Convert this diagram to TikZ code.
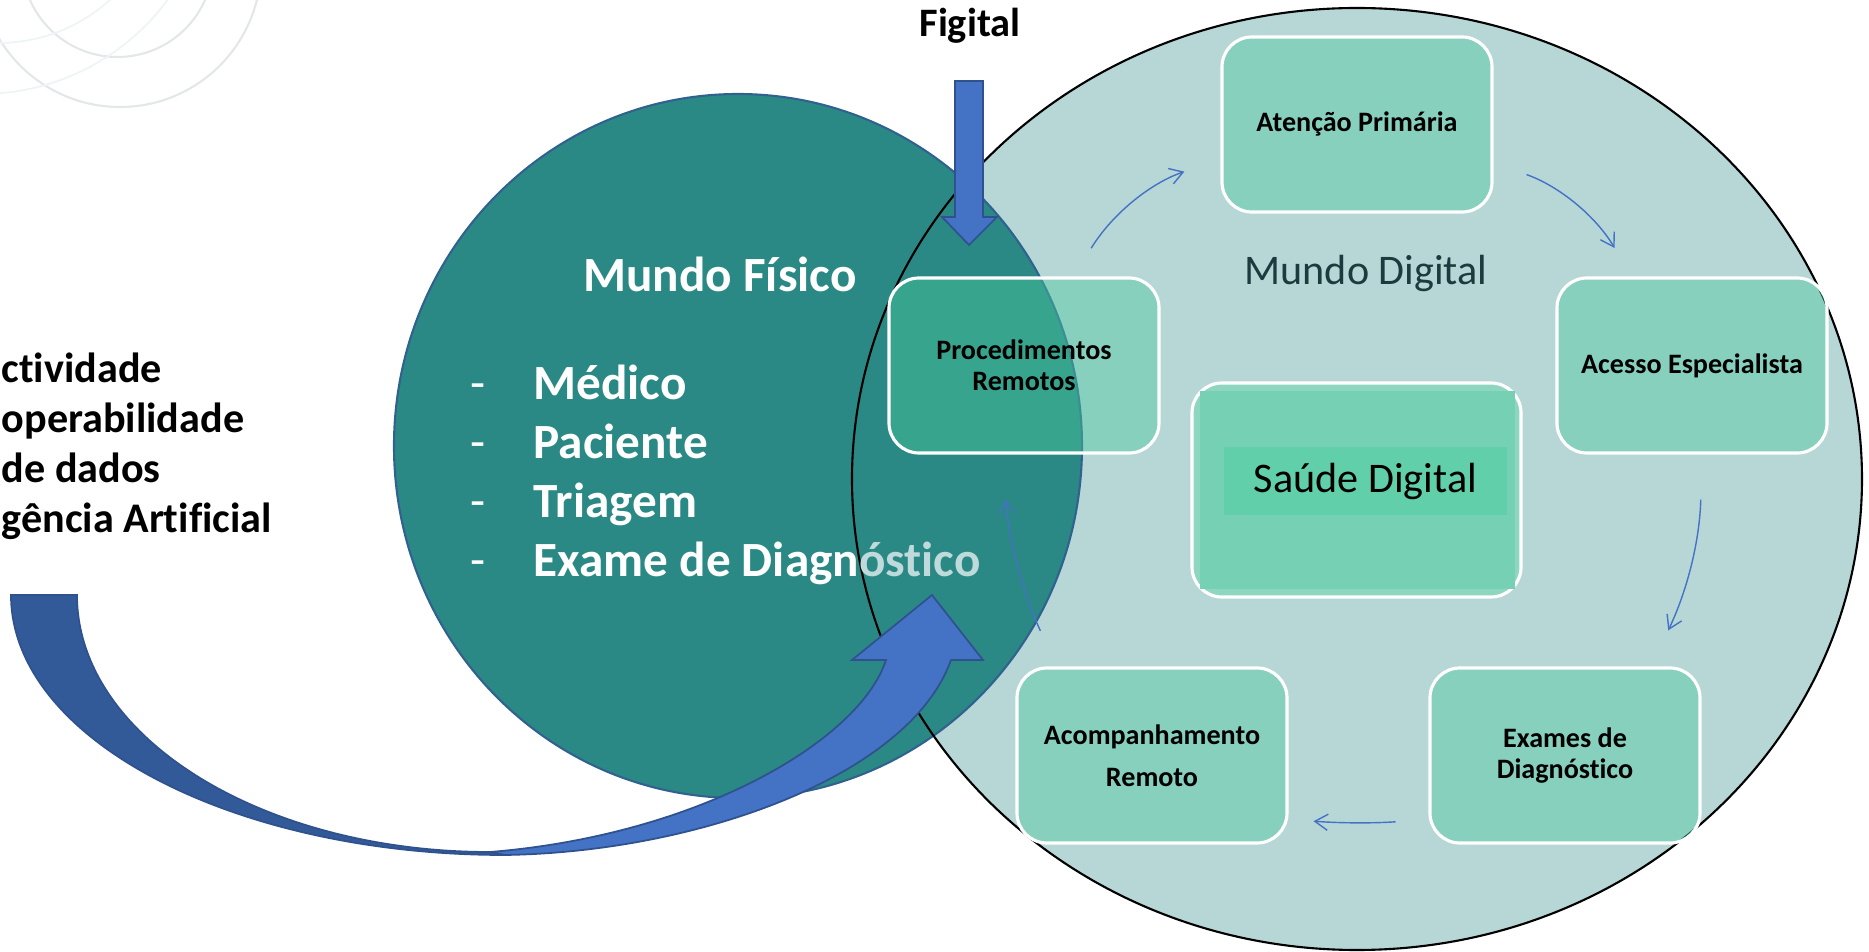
\documentclass[tikz,border=0pt]{standalone}
\usepackage{fontspec}
\setmainfont{Carlito}[Ligatures=CommonOff]
\usetikzlibrary{arrows.meta}

\definecolor{digitalbg}{HTML}{B7D7D7}
\definecolor{fisicobg}{HTML}{2B8985}
\definecolor{fisicoline}{HTML}{31628F}
\definecolor{arrowblue}{HTML}{4472C4}
\definecolor{arrowdark}{HTML}{335A98}
\definecolor{arrowline}{HTML}{2F528F}
\definecolor{stagefill}{HTML}{47C99C}
\definecolor{saudeout}{HTML}{8FD6C0}
\definecolor{saudein}{HTML}{76D1B4}
\definecolor{saudeband}{HTML}{60CFAA}
\definecolor{digitaltext}{HTML}{1D3B3E}
\definecolor{fadetext}{HTML}{BEDADA}
\definecolor{decoline}{HTML}{E3E7E9}
\definecolor{decofaint}{HTML}{EEF4F6}

\begin{document}
\begin{tikzpicture}[
    stage/.style={draw=white, line width=0.9pt, fill=stagefill, fill opacity=0.43, text opacity=1,
      rounded corners=0.3cm, minimum width=2.7cm, minimum height=1.75cm, align=center,
      font=\bfseries\fontsize{8}{8.7}\selectfont},
    cycarrow/.style={draw=arrowblue, line width=0.4pt, -{Straight Barb[length=3.7pt,width=4.6pt]}},
    fislist/.style={anchor=base west, inner sep=0pt, text=white, font=\bfseries\fontsize{14}{16}\selectfont},
    techlist/.style={anchor=base west, inner sep=0pt, font=\bfseries\fontsize{12}{14}\selectfont},
    bigarrow/.style={draw=arrowline, line width=0.5pt, line join=miter}
]

    % Frame
    \useasboundingbox (0,0) rectangle (18.69,9.52);

    % Background rings
    \begin{scope}
      \clip (0,0) rectangle (18.69,9.52);
      \draw[decoline, line width=0.6pt] (1.175,9.907) circle[radius=0.957];
      \draw[decoline, line width=0.6pt] (1.20,9.86) circle[radius=1.41];
      \draw[decofaint, line width=0.5pt] (-0.02,10.76) circle[radius=1.67];
      \draw[decofaint, line width=0.5pt] (-0.19,10.90) circle[radius=2.32];
    \end{scope}

    % Worlds
    \fill[digitalbg] (13.57,4.73) ellipse[x radius=5.05, y radius=4.71];
    \draw[fill=fisicobg, draw=fisicoline, line width=0.6pt] (7.38,5.06) ellipse[x radius=3.44, y radius=3.52];
    \draw[black, line width=0.6pt] (13.57,4.73) ellipse[x radius=5.05, y radius=4.71];

    % Big curved arrow
    \draw[bigarrow, fill=arrowdark] (0.11,3.57) arc[start angle=180, end angle=270, x radius=4.94, y radius=2.60]
        -- (4.90,1.00) arc[start angle=270, end angle=180, x radius=4.13, y radius=2.57] -- cycle;
    \draw[bigarrow, fill=arrowblue] (5.05,0.97) .. controls (7.00,1.00) and (9.10,1.77) .. (9.51,2.92)
        -- (9.83,2.92) -- (9.32,3.57) -- (8.52,2.92) -- (8.86,2.92)
        .. controls (8.60,2.12) and (7.00,1.17) .. (4.90,1.00) -- cycle;

    % Figital
    \node[anchor=base, font=\bfseries\fontsize{11.5}{13}\selectfont] (figital) at (9.70,9.15) {Figital};
    \draw[bigarrow, fill=arrowblue] (9.55,8.71) -- (9.83,8.71) -- (9.83,7.35) -- (9.97,7.35)
        -- (9.69,7.07) -- (9.42,7.35) -- (9.55,7.35) -- cycle;

    % Left list
    \node[techlist] (conect) at (0.01,5.69) {ctividade};
    \node[techlist] (interop) at ([yshift=-0.50cm]conect.base west) {operabilidade};
    \node[techlist] (dados) at ([yshift=-0.50cm]interop.base west) {de dados};
    \node[techlist] (intel) at ([yshift=-0.50cm]dados.base west) {gência Artificial};

    % Mundo Fisico
    \node[anchor=base, text=white, font=\bfseries\fontsize{14}{16}\selectfont] (fisico) at (7.20,6.60) {Mundo Físico};
    \node[fislist] (medico) at (4.70,5.52) {\makebox[0.63cm][l]{\mdseries-}Médico};
    \node[fislist] (paciente) at ([yshift=-0.59cm]medico.base west) {\makebox[0.63cm][l]{\mdseries-}Paciente};
    \node[fislist] (triagem) at ([yshift=-0.59cm]paciente.base west) {\makebox[0.63cm][l]{\mdseries-}Triagem};
    \node[fislist] (exame) at ([yshift=-0.59cm]triagem.base west) {\makebox[0.63cm][l]{\mdseries-}Exame de Diagn\textcolor{fadetext}{óstico}};

    % Mundo Digital
    \node[anchor=base, text=digitaltext, font=\fontsize{12}{14}\selectfont] (digital) at (13.66,6.67) {Mundo Digital};

    \node[draw=white, line width=0.9pt, fill=saudeout, rounded corners=0.3cm,
      minimum width=3.29cm, minimum height=2.14cm] (saude) at (13.565,4.62) {};
    \fill[saudein] ([shift={(0.1cm,0.1cm)}]saude.south west) rectangle ([shift={(-0.08cm,-0.1cm)}]saude.north east);
    \node[fill=saudeband, minimum width=2.83cm, minimum height=0.68cm,
      font=\fontsize{12}{14}\selectfont] (band) at (13.655,4.71) {Saúde Digital};

    % Stages
    \node[stage] (aten) at (13.57,8.275) {Atenção Primária};
    \node[stage] (acc) at (16.92,5.865) {Acesso Especialista};
    \node[stage] (proc) at (10.24,5.865) {Procedimentos\\Remotos};
    \node[stage] (exam) at (15.65,1.965) {Exames de\\Diagnóstico};
    \node[stage, font=\bfseries\fontsize{8}{12}\selectfont] (acomp) at (11.52,1.965) {Acompanhamento\\Remoto};

    % Cycle
    \draw[cycarrow, shorten <=0.33cm, shorten >=0.38cm] ([xshift=0.50cm]proc.north) to[bend left=20] ([yshift=-0.35cm]aten.west);
    \draw[cycarrow, shorten <=0.35cm, shorten >=0.33cm] (aten) to[bend left=20] (acc);
    \draw[cycarrow, shorten <=0.45cm, shorten >=0.40cm] ([xshift=0.10cm]acc.south) to[bend left=12] ([xshift=0.86cm]exam.north);
    \draw[cycarrow, shorten <=0.33cm, shorten >=0.25cm] ([yshift=-0.64cm]exam.west) to[bend left=4] ([yshift=-0.64cm]acomp.east);
    \draw[cycarrow, shorten <=0.39cm, shorten >=0.45cm] ([xshift=0.41cm]acomp.north west) to[bend left=10] ([xshift=1.15cm]proc.south west);

\end{tikzpicture}
\end{document}
